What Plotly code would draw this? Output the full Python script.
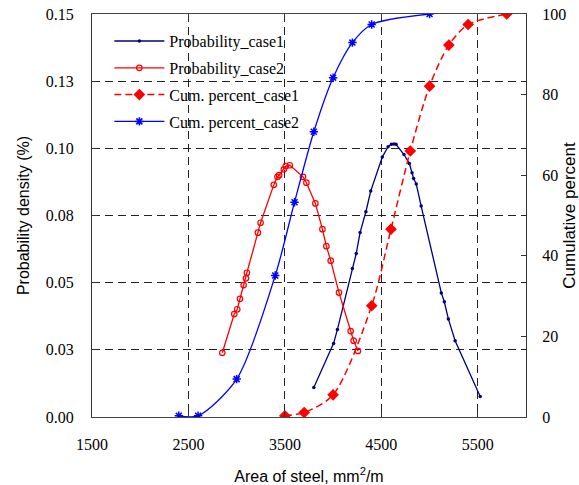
import plotly.graph_objects as go

# ---------------- data ----------------
prob1_x = [3800, 4005, 4045, 4200, 4240, 4280, 4340, 4390, 4510, 4570, 4605, 4630, 4652,
           4735, 4790, 4818, 4835, 4862, 4913, 5122, 5153, 5195, 5265, 5525]
prob1_y = [0.0110, 0.0274, 0.0326, 0.0553, 0.0609, 0.0687, 0.0764, 0.0841, 0.0968, 0.1006,
           0.1015, 0.1016, 0.1015, 0.0977, 0.0944, 0.0909, 0.0888, 0.0867, 0.0785, 0.0462,
           0.0429, 0.0365, 0.0284, 0.0076]

prob2_x = [2851, 2975, 3006, 3034, 3072, 3096, 3106, 3220, 3248, 3385, 3423, 3440, 3489,
           3509, 3551, 3688, 3723, 3816, 3889, 3930, 3975, 4061, 4182, 4213, 4257]
prob2_y = [0.0239, 0.0383, 0.0401, 0.0440, 0.0491, 0.0516, 0.0537, 0.0686, 0.0723, 0.0864,
           0.0894, 0.0900, 0.0922, 0.0934, 0.0937, 0.0894, 0.0872, 0.0795, 0.0699, 0.0636,
           0.0582, 0.0463, 0.0320, 0.0284, 0.0246]

cum1_x = [3500, 3700, 4000, 4400, 4600, 4800, 5000, 5200, 5400, 5800]
cum1_y = [0.3, 1.1, 5.5, 27.6, 46.6, 66.0, 82.1, 92.3, 97.4, 100.0]

cum2_x = [2400, 2600, 3000, 3400, 3600, 3800, 4000, 4200, 4400, 5000]
cum2_y = [0.3, 0.3, 9.4, 35.1, 53.3, 70.8, 84.2, 92.9, 97.4, 100.0]

x_ticks = [1500, 2500, 3500, 4500, 5500]
y_ticks = [0.0, 0.025, 0.05, 0.075, 0.10, 0.125, 0.15]
y_ticktext = ["0.00", "0.03", "0.05", "0.08", "0.10", "0.13", "0.15"]
y2_ticks = [0, 20, 40, 60, 80, 100]

names = ["Probability_case1", "Probability_case2", "Cum. percent_case1", "Cum. percent_case2"]

# ---------------- figure ----------------
NAVY = "#000080"
RED = "#FF0000"
BLUE = "#0000FF"

fig = go.Figure()
fig.add_trace(go.Scatter(
    x=prob1_x, y=prob1_y, name=names[0], legendgroup="a", mode="lines+markers",
    line=dict(color=NAVY, width=1.3),
    marker=dict(symbol="circle", size=3.5, color=NAVY)))
fig.add_trace(go.Scatter(
    x=prob2_x, y=prob2_y, name=names[1], legendgroup="b", mode="lines+markers",
    line=dict(color=RED, width=1.3),
    marker=dict(symbol="circle-open", size=5.5, color=RED, line=dict(width=1.2, color=RED))))
fig.add_trace(go.Scatter(
    x=cum1_x, y=cum1_y, name=names[2], legendgroup="c", mode="lines+markers", yaxis="y2",
    line=dict(color=RED, width=1.5, dash="7px,4px", shape="spline", smoothing=0.8),
    marker=dict(symbol="diamond", size=9, color=RED)))
fig.add_trace(go.Scatter(
    x=cum2_x, y=cum2_y, name=names[3], legendgroup="d", mode="lines+markers", yaxis="y2",
    line=dict(color=BLUE, width=1.3, shape="spline", smoothing=0.8),
    marker=dict(symbol="asterisk-open", size=7, color=BLUE, line=dict(width=1.5, color=BLUE))))

tick_font = dict(family="Liberation Serif, Times New Roman, serif", size=16, color="black")
title_font = dict(family="Liberation Sans, Arial, sans-serif", size=16, color="black")
grid = dict(showgrid=True, gridcolor="#222222", griddash="8px,5px", gridwidth=1)

fig.update_layout(
    width=579, height=485,
    margin=dict(l=92, r=53, t=14, b=68, autoexpand=False),
    paper_bgcolor="white", plot_bgcolor="white",
    showlegend=True,
    legend=dict(x=0.04, y=0.975, xanchor="left", yanchor="top",
                bgcolor="rgba(0,0,0,0)", borderwidth=0,
                font=dict(family="Liberation Serif, Times New Roman, serif", size=16, color="black"),
                tracegroupgap=3, itemwidth=50, traceorder="grouped"),
    xaxis=dict(range=[1500, 6000], tickvals=x_ticks, ticks="inside", ticklen=5,
               tickcolor="#333", showline=True, linecolor="#444", linewidth=1.2,
               mirror="ticks", tickfont=tick_font, ticklabelstandoff=13,
               title=dict(text="Area of steel, mm<sup>2</sup>/m", font=title_font, standoff=20),
               zeroline=False, automargin=False, **grid),
    yaxis=dict(range=[0, 0.15], tickvals=y_ticks, ticktext=y_ticktext, ticks="inside",
               ticklen=5, tickcolor="#333", showline=True, linecolor="#333", linewidth=1.2,
               tickfont=tick_font, ticklabelstandoff=14, automargin=False,
               title=dict(text="Probability density (%)", font=title_font, standoff=12),
               zeroline=False, **grid),
    yaxis2=dict(range=[0, 100], tickvals=y2_ticks, overlaying="y", side="right",
                ticks="inside", ticklen=5, tickcolor="#333", showline=True,
                linecolor="#333", linewidth=1.2, tickfont=tick_font, ticklabelstandoff=12,
                showgrid=False, zeroline=False, automargin=False,
                title=dict(text="Cumulative percent", font=dict(title_font, size=17), standoff=11)),
)

fig.write_html("out.html")
